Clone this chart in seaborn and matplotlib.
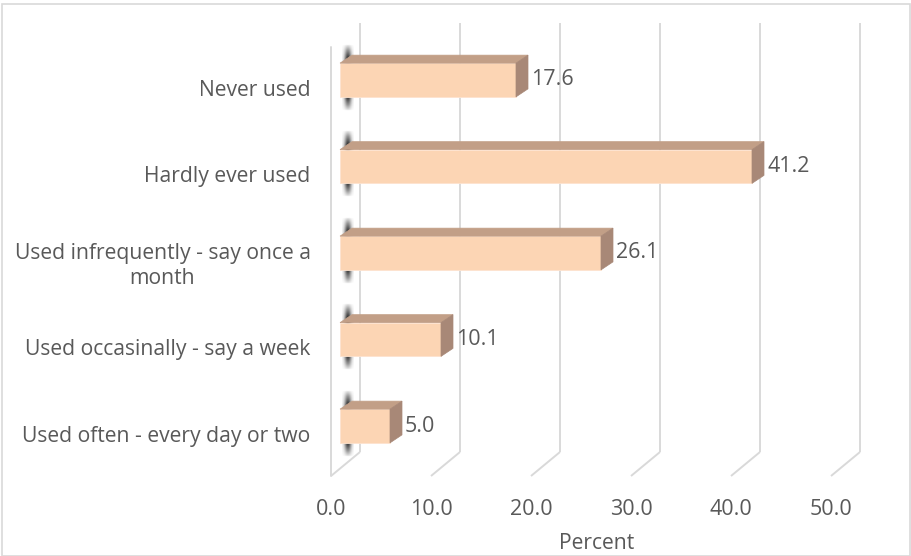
import numpy as np
import pandas as pd
import matplotlib.pyplot as plt
import matplotlib.transforms as mtransforms
from matplotlib.patches import Polygon, Rectangle
import seaborn as sns

# Chart data
categories = [
    "Never used",
    "Hardly ever used",
    "Used infrequently - say once a\nmonth",
    "Used occasinally - say a week",
    "Used often - every day or two",
]
percent = [17.6, 41.2, 26.1, 10.1, 5.0]
tick_values = [0, 10, 20, 30, 40, 50]
tick_labels = ["0.0", "10.0", "20.0", "30.0", "40.0", "50.0"]

sns.set_theme(style="white")
plt.rcParams["font.family"] = ["Open Sans", "DejaVu Sans"]

TEXT = "#595959"
FRONT = "#FCD5B4"
TOP = "#C29F87"
SIDE = "#A88877"
GRID = "#D9D9D9"

W, H = 912, 556
fig = plt.figure(figsize=(W / 100, H / 100), dpi=100)

# axes placed in pixel terms: 10 px per percent, 86.5 px per category
xlim = (-1.0, 54.0)
ylim = (4.65, -0.7)
left_px, right_px = 330, 880
top_px = 80 + ylim[1] * 86.5
bot_px = 80 + ylim[0] * 86.5
ax = fig.add_axes([left_px / W, 1 - bot_px / H,
                   (right_px - left_px) / W, (bot_px - top_px) / H])

df = pd.DataFrame({"category": categories, "percent": percent})
sns.barplot(data=df, x="percent", y="category", orient="h", color=FRONT,
            width=0.39, saturation=1, edgecolor="#FDE3CF", linewidth=0.6,
            ax=ax, zorder=3)

# depth offsets (in data units)
dx, dy = 1.2, 8 / 86.5
fx, fy = -2.9, 24 / 86.5

# back wall gridlines with floor skew
y_top = (23 - 80) / 86.5
y_floor = (452 - 80) / 86.5
for v in tick_values:
    xb = v + 2.0
    ax.plot([xb, xb], [y_top, y_floor], color=GRID, lw=1.4, zorder=1,
            solid_capstyle="butt")
    ax.plot([xb, xb + fx], [y_floor, y_floor + fy], color=GRID, lw=1.4,
            zorder=1, solid_capstyle="butt")
# left wall front edge
ax.plot([-0.9, -0.9], [y_top + fy, y_floor + fy], color=GRID, lw=1.4, zorder=1)

# soft shadow streak image (dark grey with varying alpha)
gx = np.linspace(-1, 1, 30)
gy = np.linspace(0, 1, 80)
GX, GY = np.meshgrid(gx, gy)
ends = np.clip(np.minimum(GY, 1 - GY) / 0.22, 0, 1) ** 0.8
streak = np.zeros((80, 30, 4))
streak[..., :3] = 0.1
streak[..., 3] = 0.95 * np.exp(-(GX / 0.6) ** 2) * ends

# 3D faces built from the seaborn bars
for p, v in zip(ax.patches[:len(percent)], percent):
    x0, w = p.get_x(), p.get_width()
    y0, h = p.get_y(), p.get_height()
    ax.imshow(streak, extent=(0.15, 1.35, y0 + h + 0.16, y0 - 0.22),
              aspect="auto", interpolation="bilinear", zorder=2)
    top = Polygon([(x0, y0), (x0 + w, y0), (x0 + w + dx, y0 - dy),
                   (x0 + dx, y0 - dy)], closed=True, facecolor=TOP,
                  edgecolor=TOP, lw=0.5, zorder=4)
    side = Polygon([(x0 + w, y0), (x0 + w + dx, y0 - dy),
                    (x0 + w + dx, y0 + h - dy), (x0 + w, y0 + h)], closed=True,
                   facecolor=SIDE, edgecolor=SIDE, lw=0.5, zorder=4)
    ax.add_patch(top)
    ax.add_patch(side)
    ax.text(x0 + w + dx + 0.3, y0 + h / 2, f"{v:.1f}", ha="left",
            va="center", fontsize=15.5, color=TEXT, zorder=5)

ax.set_xlim(*xlim)
ax.set_ylim(*ylim)

# axes decoration
for s in ax.spines.values():
    s.set_visible(False)
ax.set_xticks([v + 2.0 + fx for v in tick_values], tick_labels)
ax.tick_params(axis="x", length=0, pad=12, labelsize=15.5, labelcolor=TEXT)
ax.tick_params(axis="y", length=0, pad=14, labelsize=15.2, labelcolor=TEXT)
ax.set_ylabel("")
ax.set_xlabel("Percent", fontsize=15.2, color=TEXT)
ax.xaxis.set_label_coords((597 - left_px) / (right_px - left_px), -0.11)

shift = mtransforms.ScaledTranslation(0, -8 / 100, fig.dpi_scale_trans)
for lab in ax.get_yticklabels():
    lab.set_multialignment("center")
    lab.set_linespacing(1.25)
    lab.set_transform(lab.get_transform() + shift)

# chart border
fig.patches.append(Rectangle((2 / W, 0), (908 / W), 1 - 4 / H,
                             transform=fig.transFigure, fill=False,
                             edgecolor=GRID, lw=1.2))

fig.savefig("out.png", dpi=100)
